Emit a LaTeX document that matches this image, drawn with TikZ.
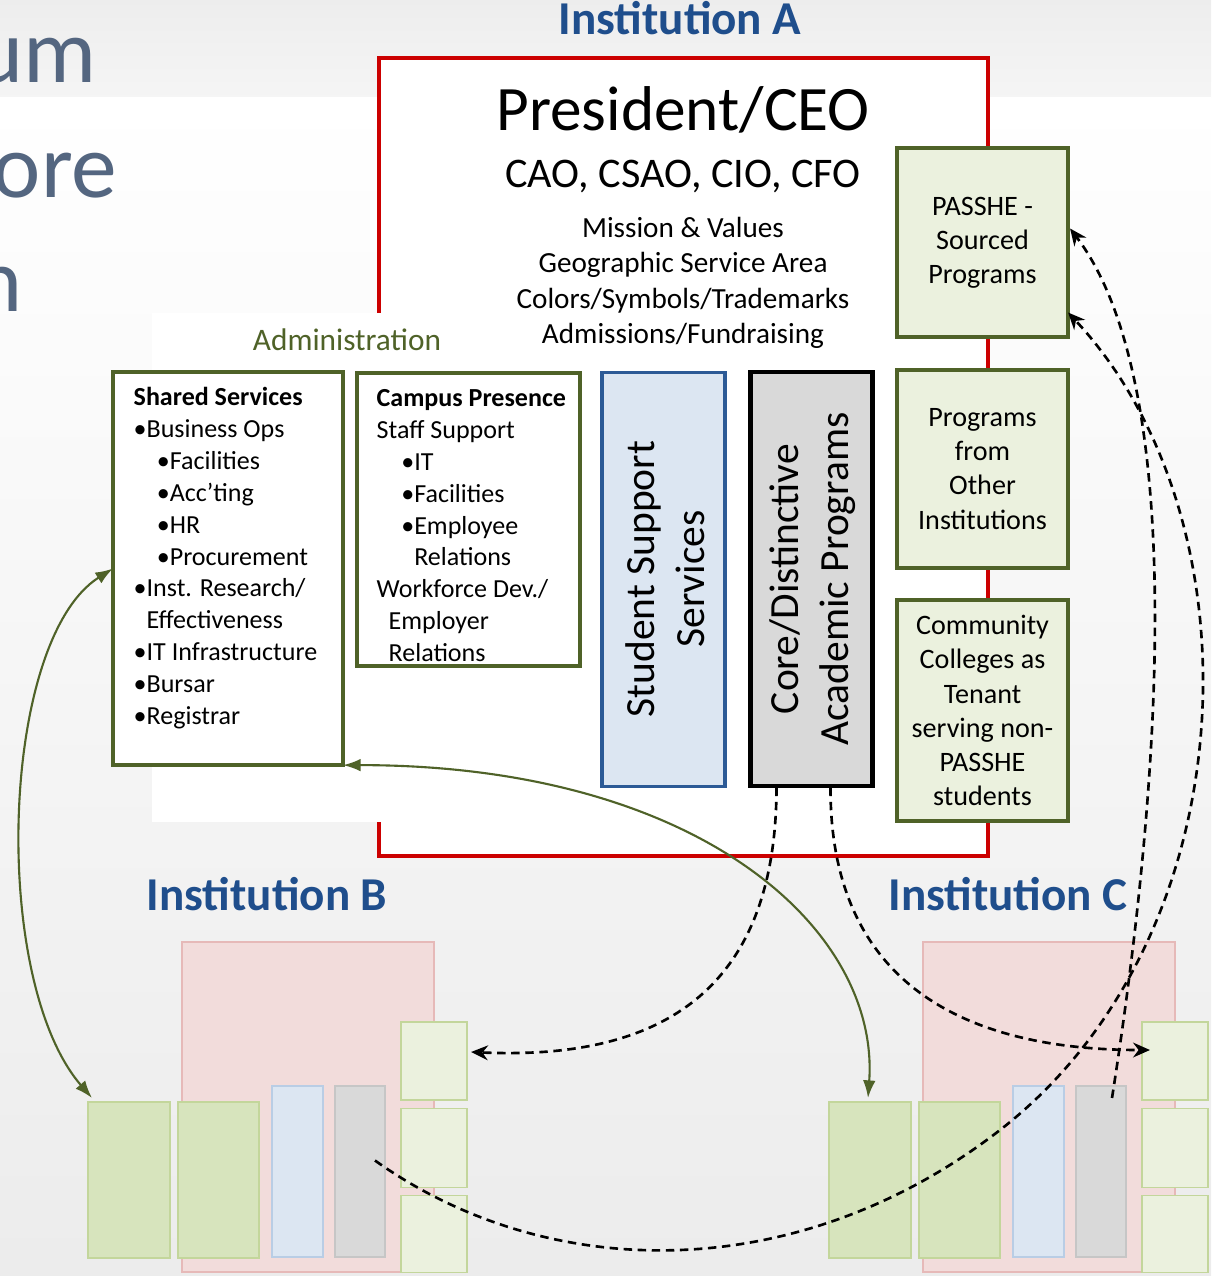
\documentclass[tikz,border=0pt]{standalone}
\usepackage{fontspec}
\setmainfont{Carlito}
\usetikzlibrary{calc,arrows.meta}
\definecolor{instblue}{RGB}{31,78,140}
\definecolor{admgreen}{RGB}{79,98,40}
\definecolor{boxred}{RGB}{204,0,0}
\definecolor{titleslate}{RGB}{84,102,128}
\definecolor{palegreen}{RGB}{235,241,222}
\definecolor{midgreen}{RGB}{215,228,189}
\definecolor{greenline}{RGB}{195,214,155}
\definecolor{paleblue}{RGB}{220,230,242}
\definecolor{blueline}{RGB}{185,205,229}
\definecolor{ssblue}{RGB}{44,90,150}
\definecolor{palepink}{RGB}{242,220,219}
\definecolor{pinkline}{RGB}{230,185,184}
\definecolor{palegray}{RGB}{217,217,217}
\newcommand{\setfs}[2]{\fontsize{#1}{#2}\selectfont}
\begin{document}
\begin{tikzpicture}[x=0.01cm, y=-0.01cm, >=stealth,
	panel/.style={draw=admgreen, line width=1.2pt, fill=white, inner sep=0pt, outer sep=0pt},
	tenant/.style={draw=admgreen, line width=1.2pt, fill=palegreen, inner sep=0pt, outer sep=0pt,
		minimum width=1.71cm, align=center, font=\setfs{8}{9.7}},
	listtext/.style={anchor=north west, inner sep=0pt, align=left, font=\setfs{7.4}{9.05}},
	instlabel/.style={instblue, anchor=base, inner sep=0pt, font=\bfseries\setfs{13.4}{16}},
	mini/.style={line width=0.4pt, inner sep=0pt, outer sep=0pt},
	link/.style={admgreen, line width=0.6pt, {Latex[length=5pt,width=3.6pt]}-{Latex[length=5pt,width=3.6pt]}},
	flow/.style={black, line width=0.75pt, dash pattern=on 2.4pt off 1.6pt, -{Stealth[length=4.8pt,width=4.2pt]}}]
	\useasboundingbox (0,0) rectangle (1211,1276);
	\clip (0,0) rectangle (1211,1276);
	% slide background
	\fill[top color=gray!14, bottom color=gray!8] (0,0) rectangle (1211,98);
	\fill[top color=white, bottom color=gray!15] (0,98) rectangle (1211,1276);
	\node[titleslate, anchor=base east, inner sep=0pt, font=\setfs{26}{32}] (tum) at (97,83) {um};
	\node[titleslate, anchor=base east, inner sep=0pt, font=\setfs{26}{32}] (tore) at (118,197) {ore};
	\node[titleslate, anchor=base east, inner sep=0pt, font=\setfs{26}{32}] (tn) at (23,311) {n};
	
	% Institution A
	\node[instlabel] (labA) at (680,35) {Institution A};
	\node[draw=boxred, line width=1.1pt, fill=white, inner sep=0pt, minimum width=6.09cm, minimum height=7.98cm] (instA) at (683.5,457) {};
	\fill[white] (152,313) rectangle (384,822);
	\node[anchor=base, inner sep=0pt, font=\setfs{18}{22}] (pres) at (683,131) {President/CEO};
	\node[anchor=base, inner sep=0pt, font=\setfs{12}{14}] (chiefs) at (683,187) {CAO, CSAO, CIO, CFO};
	\node[anchor=north, inner sep=0pt, align=center, font=\setfs{8.3}{9.96}] (brand) at (683,217)
		{Mission \& Values\\Geographic Service Area\\Colors/Symbols/Trademarks\\Admissions/Fundraising};
	\node[admgreen, anchor=base, inner sep=0pt, font=\setfs{8.9}{10}] (admin) at (347,350) {Administration};
	
	\node[panel, minimum width=2.30cm, minimum height=3.93cm] (shared) at (228,568.5) {};
	\node[listtext] (sharedtxt) at (133,387) {\textbf{Shared Services}\\
		•Business Ops\\
		\hspace*{6.6pt}•Facilities\\
		\hspace*{6.6pt}•Acc’ting\\
		\hspace*{6.6pt}•HR\\
		\hspace*{6.6pt}•Procurement\\
		•Inst. Research/\\
		\hphantom{•}Effectiveness\\
		•IT Infrastructure\\
		•Bursar\\
		•Registrar};
	\node[panel, minimum width=2.23cm, minimum height=2.93cm] (campus) at (468.5,519.5) {};
	\node[listtext] (campustxt) at (376,389) {\textbf{Campus Presence}\\
		Staff Support\\
		\hspace*{7pt}•IT\\
		\hspace*{7pt}•Facilities\\
		\hspace*{7pt}•Employee\\
		\hspace*{7pt}\hphantom{•}Relations\\
		Workforce Dev./\\
		\hspace*{3.4pt}Employer\\
		\hspace*{3.4pt}Relations};
	\node[draw=ssblue, line width=1pt, fill=paleblue, inner sep=0pt, minimum width=1.23cm, minimum height=4.14cm] (student) at (663.5,579.5) {};
	\node[rotate=90, align=center, inner sep=0pt, font=\setfs{11.8}{14.2}] (studenttxt) at (665,579) {Student Support\\Services};
	\node[draw=black, line width=1.2pt, fill=palegray, inner sep=0pt, minimum width=1.22cm, minimum height=4.13cm] (core) at (811.5,579) {};
	\node[rotate=90, align=center, inner sep=0pt, font=\setfs{11.8}{14.2}] (coretxt) at (813,579) {Core/Distinctive\\Academic Programs};
	
	\node[tenant, minimum height=1.89cm] (passhe) at (982.5,242.5) {PASSHE -\\Sourced\\Programs};
	\node[tenant, minimum height=1.98cm] (others) at (982.5,469) {Programs\\from\\Other\\Institutions};
	\node[tenant, minimum height=2.21cm] (ccoll) at (982.5,710.5) {Community\\Colleges as\\Tenant\\serving non-\\PASSHE\\students};
	
	% Institutions B and C
	\foreach \p/\dx/\l in {b/0/B, c/741/C}{
		\node[instlabel] (\p-label) at (267+\dx,910) {Institution \l};
		\node[mini, draw=pinkline, fill=palepink, minimum width=2.52cm, minimum height=3.30cm] (\p-pink) at (308+\dx,1107) {};
		\node[mini, draw=greenline, fill=midgreen, minimum width=0.82cm, minimum height=1.56cm] (\p-g1) at (129+\dx,1180) {};
		\node[mini, draw=greenline, fill=midgreen, minimum width=0.81cm, minimum height=1.56cm] (\p-g2) at (218.5+\dx,1180) {};
		\node[mini, draw=blueline, fill=paleblue, minimum width=0.51cm, minimum height=1.71cm] (\p-blue) at (297.5+\dx,1171.5) {};
		\node[mini, draw=gray!45, fill=palegray, minimum width=0.50cm, minimum height=1.71cm] (\p-gray) at (360+\dx,1171.5) {};
		\node[mini, draw=greenline, fill=palegreen, minimum width=0.66cm, minimum height=0.78cm] (\p-q1) at (434+\dx,1061) {};
		\node[mini, draw=greenline, fill=palegreen, minimum width=0.66cm, minimum height=0.79cm] (\p-q2) at (434+\dx,1148) {};
		\node[mini, draw=greenline, fill=palegreen, minimum width=0.66cm, minimum height=0.77cm] (\p-q3) at (434+\dx,1234) {};
	}
	
	% shared services links
	\draw[link] (shared.west) .. controls (0,640) and (-10,980) .. ($(b-g1.north west)+(4,-4)$);
	\draw[link] (shared.south east) .. controls (700,765) and (880,930) .. ($(c-g1.north)+(-2,-4)$);
	% program flows
	\draw[flow] ($(core.south)+(-35,0)$) .. controls (776,1000) and (650,1060) .. ($(b-q1.east)+(4,-9)$);
	\draw[flow] ($(core.south)+(19,0)$) .. controls (830,980) and (960,1050) .. ($(c-q1.west)+(8,-11)$);
	\draw[flow] ($(c-gray.north)+(11,12)$) .. controls (1165,760) and (1185,380) .. ($(passhe.east)+(2,-14)$);
	\draw[flow] ($(b-gray.center)+(15,-11)$) .. controls (550,1285) and (800,1285) .. (1000,1130)
		.. controls (1250,936) and (1262,520) .. ($(passhe.east)+(0,70)$);
\end{tikzpicture}
\end{document}
